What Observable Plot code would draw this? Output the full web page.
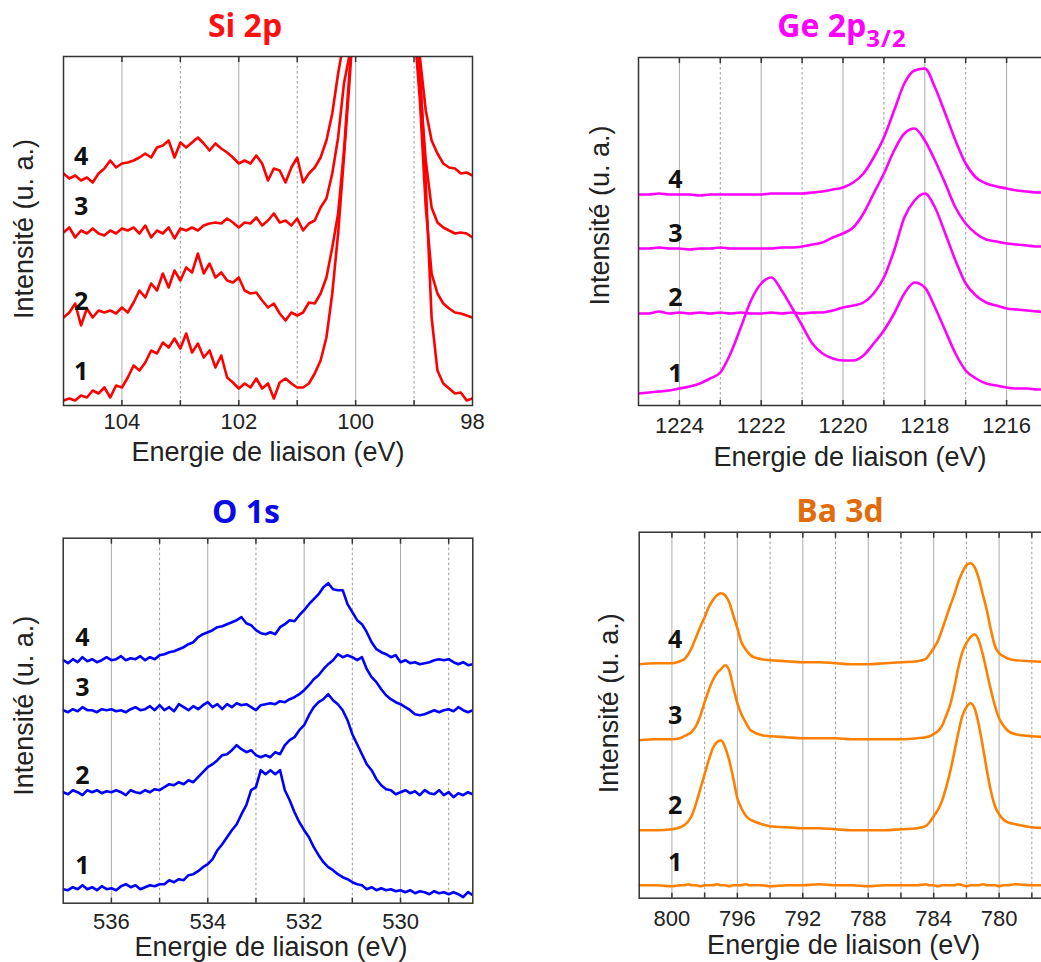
<!DOCTYPE html>
<html><head><meta charset="utf-8">
<script src="https://cdn.jsdelivr.net/npm/d3@7"></script>
<script src="https://cdn.jsdelivr.net/npm/@observablehq/plot@0.6"></script>
<style>
html,body{margin:0;padding:0;background:#fff;overflow:hidden;}
#page{position:relative;width:1041px;height:962px;overflow:hidden;background:#fff;}
.panel{position:absolute;}
.title{position:absolute;width:300px;text-align:center;font-family:"Open Sans",sans-serif;font-weight:700;font-size:32px;line-height:32px;white-space:nowrap;}
.title sub{font-size:24px;vertical-align:-10px;line-height:0;letter-spacing:1px;}
</style></head><body><div id="page"></div>
<script>
// ---------- Si 2p ----------
const siEnergy = [105.0,104.9,104.8,104.7,104.6,104.5,104.4,104.3,104.2,104.1,
104.0,103.9,103.8,103.7,103.6,103.5,103.4,103.3,103.2,103.1,
103.0,102.9,102.8,102.7,102.6,102.5,102.4,102.3,102.2,102.1,
102.0,101.9,101.8,101.7,101.6,101.5,101.4,101.3,101.2,101.1,
101.0,100.9,100.8,100.7,100.6,100.5,100.4,100.3,100.2,100.1,
100.0,99.9,99.8,99.7,99.6,99.5,99.4,99.3,99.2,99.1,
99.0,98.9,98.8,98.7,98.6,98.5,98.4,98.3,98.2,98.1,98.0];
const siS1 = [5,7,5,10,8,15,12,18,8,20, 18,28,40,35,43,55,52,63,58,67, 57,72,53,62,48,55,38,50,28,23, 17,22,18,27,17,22,7,23,27,22, 18,18,22,32,45,68,112,172,248,328,
420,480,520,540,550,540,520,480,440,400, 370,338,222,88,35,22,17,12,13,5,7];
const siS2 = [88,93,102,80,97,88,95,93,95,92, 98,93,103,115,108,122,115,132,118,135, 125,138,133,152,132,142,128,133,125,123, 128,115,112,113,105,98,102,92,85,93, 90,93,103,102,112,128,158,192,255,338,
420,480,520,540,550,540,520,480,440,400, 380,305,198,132,112,102,97,93,92,90,88];
const siS3 = [173,178,168,175,172,177,172,170,175,172, 177,175,178,172,180,168,175,172,178,167, 177,175,178,175,180,182,183,182,187,183, 178,183,182,188,180,185,192,183,185,180, 187,175,182,185,198,207,232,268,322,352,
420,480,520,540,550,540,520,480,440,400, 390,322,245,198,183,178,175,172,173,172,168];
const siS4 = [232,227,230,225,228,223,232,237,245,238, 242,243,245,248,252,248,258,260,265,248, 263,258,263,268,262,255,262,257,253,248, 242,245,242,250,242,225,237,235,223,238, 248,223,232,238,248,265,292,332,365,420,
450,490,520,540,550,540,520,490,450,420, 400,348,295,265,252,242,238,237,232,233,230];
const siMajor = [104,102,100];
const siMinor = [103,101,99];
const siTicks = [104,102,100,98];

// ---------- Ge 2p3/2 ----------
const geEnergy = [1225,1224.75,1224.5,1224.25,1224,1223.75,1223.5,1223.25,1223,1222.75,
1222.5,1222.25,1222,1221.75,1221.5,1221.25,1221,1220.75,1220.5,1220.25,
1220,1219.75,1219.5,1219.25,1219,1218.75,1218.5,1218.25,1218,1217.75,
1217.5,1217.25,1217,1216.75,1216.5,1216.25,1216,1215.75,1215.5,1215.25,1215];
const geS1 = [12,13,14,15,17,19,22,27,33,52, 78,105,122,128,115,98,80,62,52,47, 45,45,50,62,75,92,112,123,118,98, 75,52,35,27,22,20,18,17,17,16,16];
const geS2 = [92,92,94,92,93,92,93,92,93,92, 93,92,92,93,92,93,92,93,93,95, 98,100,103,112,128,155,188,205,212,198, 172,145,122,110,103,100,97,96,95,94,93];
const geS3 = [157,157,158,157,157,156,157,157,158,157, 157,157,157,157,158,158,159,161,163,168, 172,178,192,212,232,255,272,277,265,245, 222,198,182,172,166,164,162,161,160,159,159];
const geS4 = [211,211,212,211,211,211,210,211,211,211, 211,211,211,212,212,212,212,213,214,216, 218,223,232,248,268,295,322,335,337,318, 292,265,242,228,222,219,217,215,214,213,213];
const geMajor = [1224,1222,1220,1218,1216];
const geMinor = [1223,1221,1219,1217];
const geTicks = [1224,1222,1220,1218,1216];

// ---------- O 1s ----------
const oEnergy = [537.0,536.9,536.8,536.7,536.6,536.5,536.4,536.3,536.2,536.1,
536.0,535.9,535.8,535.7,535.6,535.5,535.4,535.3,535.2,535.1,
535.0,534.9,534.8,534.7,534.6,534.5,534.4,534.3,534.2,534.1,
534.0,533.9,533.8,533.7,533.6,533.5,533.4,533.3,533.2,533.1,
533.0,532.9,532.8,532.7,532.6,532.5,532.4,532.3,532.2,532.1,
532.0,531.9,531.8,531.7,531.6,531.5,531.4,531.3,531.2,531.1,
531.0,530.9,530.8,530.7,530.6,530.5,530.4,530.3,530.2,530.1,
530.0,529.9,529.8,529.7,529.6,529.5,529.4,529.3,529.2,529.1,
529.0,528.9,528.8,528.7,528.6,528.5];
const oS1 = [14,13,16,14,18,14,16,13,17,14, 15,13,17,19,16,18,14,16,18,17, 19,19,23,21,24,23,28,29,32,36, 39,44,53,59,66,73,79,89,98,113,
116,133,129,133,129,133,113,103,91,81, 73,66,56,48,41,36,33,29,26,24, 21,19,18,14,16,13,15,13,14,12, 13,11,13,10,12,11,9,12,10,11, 9,11,9,6,11,8];
const oS2 = [111,109,113,111,108,113,111,113,110,112, 111,113,111,108,113,111,110,113,111,114, 113,116,119,118,121,119,123,121,126,131, 136,139,143,148,149,153,158,154,151,153,
148,146,148,146,151,149,158,163,166,173, 178,188,196,201,204,209,203,199,193,183, 169,159,149,139,133,124,118,114,113,109, 111,113,110,112,108,113,110,109,113,108, 111,106,110,108,111,109];
const oS3 = [193,191,194,192,196,193,193,191,194,193, 194,192,193,191,194,196,193,194,197,193, 198,193,196,192,199,196,193,197,194,198, 201,196,199,194,199,196,200,198,199,196,
193,198,199,200,199,202,201,204,206,209, 213,218,224,228,234,239,243,249,246,248, 246,243,246,234,226,221,214,208,204,201, 199,196,193,189,188,189,191,193,191,193, 194,192,196,193,191,193];
const oS4 = [243,240,244,241,246,242,244,241,243,246, 243,244,247,243,245,244,247,243,246,244, 248,249,251,252,254,256,259,261,266,269, 271,273,276,277,279,281,283,286,280,278,
273,270,269,271,269,276,279,283,282,288, 293,299,304,309,316,320,314,313,313,299, 291,283,279,271,261,254,251,249,246,248, 241,243,240,241,239,240,241,243,244,243, 244,241,239,241,238,239];
const oMajor = [536,534,532,530];
const oMinor = [535,533,531,529];
const oTicks = [536,534,532,530];

// ---------- Ba 3d ----------
const baEnergy = [802,801,800,799.5,799.25,799,798.75,798.5,798.25,798,
797.75,797.5,797.25,797,796.75,796.5,796.25,796,795.75,795.5,
795.25,795,794.5,794,793,792,791,790,789,788,
787,786,785,784.5,784.25,784,783.75,783.5,783.25,783,
782.75,782.5,782.25,782,781.75,781.5,781.25,781,780.75,780.5,
780.25,780,779.75,779.5,779,778,777];
const baS1 = [13,13,12,13,13,14,13,13,12,13, 13,13,14,13,13,12,13,13,13,14, 13,13,13,12,13,13,14,13,13,12, 13,13,13,14,13,13,12,13,13,13, 13,14,13,12,13,13,13,14,13,13, 13,12,13,13,14,13,13];
const baS2 = [68,68,69,71,73,77,84,96,110,124, 138,150,156,158,151,138,120,100,90,83, 79,77,74,72,71,70,70,69,68,68, 68,69,70,72,76,82,88,97,110,126, 145,165,182,191,195,190,174,152,128,107, 92,84,79,76,74,71,70];
const baS3 = [158,159,159,160,162,164,167,173,183,196, 208,218,225,229,233,228,211,195,184,176, 169,166,163,162,161,160,160,160,159,159, 159,159,160,161,162,164,167,172,182,193, 210,230,246,255,261,264,258,244,226,208, 192,180,173,168,164,162,161];
const baS4 = [234,235,235,237,239,244,252,262,272,281, 291,298,303,305,303,296,283,270,256,249, 244,241,239,238,237,236,236,235,234,234, 235,236,237,239,244,250,257,268,280,292, 303,316,326,333,335,331,320,304,288,268, 252,245,242,240,238,237,236];
const baMajor = [800,796,792,788,784,780];
const baMinor = [798,794,790,786,782,778];
const baTicks = [800,796,792,788,784,780];

const seriesNames = ["1","2","3","4"];

const panels = [
  {title:"Si 2p", color:"#ff0000", titleColor:"#ff1010", left:0, top:0, width:520, height:475,
   mt:56, mr:48, mb:70, ml:63, xDomain:[105,98], yMax:349,
   energy:siEnergy, series:[siS1,siS2,siS3,siS4], majors:siMajor, minors:siMinor, ticks:siTicks,
   curve:"linear", labelE:104.7, labelDy:-24, yLabDx:-39, yLabDy:-2, xLabDx:0, xLabDy:47, tickPad:8,
   titleCx:245, titleTop:9},
  {title:"Ge 2p<sub>3/2</sub>", color:"#ff00ff", titleColor:"#ff00ff", left:540, top:0, width:540, height:475,
   mt:57, mr:33, mb:70, ml:98, xDomain:[1225,1215], yMax:348,
   energy:geEnergy, series:[geS1,geS2,geS3,geS4], majors:geMajor, minors:geMinor, ticks:geTicks,
   curve:"monotone-x", labelE:1224.1, labelDy:-15, yLabDx:-38, yLabDy:-16, xLabDx:7, xLabDy:52, tickPad:12,
   titleCx:842, titleTop:9},
  {title:"O 1s", color:"#0000ff", titleColor:"#0a0ae6", left:0, top:480, width:520, height:482,
   mt:57.7, mr:47.7, mb:59.3, ml:62.7, xDomain:[537,528.5], yMax:365,
   energy:oEnergy, series:[oS1,oS2,oS3,oS4], majors:oMajor, minors:oMinor, ticks:oTicks,
   curve:"linear", labelE:536.6, labelDy:-19, yLabDx:-39, yLabDy:-15, xLabDx:3, xLabDy:44, tickPad:10,
   titleCx:246, titleTop:495},
  {title:"Ba 3d", color:"#ff8000", titleColor:"#e36c0a", left:540, top:480, width:540, height:482,
   mt:51.7, mr:32.3, mb:64.3, ml:98.7, xDomain:[802,777], yMax:366,
   energy:baEnergy, series:[baS1,baS2,baS3,baS4], majors:baMajor, minors:baMinor, ticks:baTicks,
   curve:"monotone-x", labelE:799.8, labelDy:-23, yLabDx:-30, yLabDy:-12, xLabDx:0, xLabDy:47, tickPad:12,
   titleCx:840, titleTop:494}
];

const page = document.getElementById("page");
const axisFont = '"Liberation Sans", Arial, sans-serif';
const boldFont = '"Open Sans", "DejaVu Sans", sans-serif';

for (const p of panels) {
  const rows = [];
  p.series.forEach((vals, k) => {
    p.energy.forEach((e, i) => rows.push({E: e, v: vals[i], s: seriesNames[k]}));
  });
  // label anchors taken from the curves themselves
  let li = 0;
  p.energy.forEach((e, i) => { if (Math.abs(e - p.labelE) < Math.abs(p.energy[li] - p.labelE)) li = i; });
  const labels = p.series.map((vals, k) => ({E: p.labelE, v: vals[li], s: seriesNames[k]}));
  const allTicks = [...p.majors, ...p.minors];

  const chart = Plot.plot({
    width: p.width, height: p.height,
    marginTop: p.mt, marginRight: p.mr, marginBottom: p.mb, marginLeft: p.ml,
    x: {domain: p.xDomain},
    y: {domain: [0, p.yMax], axis: null},
    style: {fontFamily: axisFont, fontSize: "22px", color: "#222", background: "transparent", overflow: "visible"},
    marks: [
      Plot.ruleX(p.majors, {stroke: "#ababab", strokeWidth: 1}),
      Plot.ruleX(p.minors, {stroke: "#9a9a9a", strokeWidth: 1, strokeDasharray: "2.5,2.5"}),
      Plot.line(rows, {x: "E", y: "v", z: "s", stroke: p.color, strokeWidth: 2.6, curve: p.curve, clip: true}),
      Plot.text(labels, {x: "E", y: "v", text: "s", dy: p.labelDy, fontFamily: boldFont, fontWeight: "bold", fontSize: 25, fill: "#111"}),
      Plot.frame({stroke: "#333", strokeWidth: 1.5}),
      Plot.axisX({anchor: "bottom", ticks: allTicks, tickSize: -5, tickFormat: () => "", label: null, stroke: "#333", strokeWidth: 1.5}),
      Plot.axisX({anchor: "top", ticks: allTicks, tickSize: -5, tickFormat: () => "", label: null, stroke: "#333", strokeWidth: 1.5}),
      Plot.axisX({anchor: "bottom", ticks: p.ticks, tickSize: 0, tickPadding: p.tickPad, tickFormat: d => String(d), label: null, fontSize: 22, fill: "#222"}),
      Plot.text(["Energie de liaison (eV)"], {text: d => d, frameAnchor: "bottom", textAnchor: "middle", lineAnchor: "middle", dx: p.xLabDx, dy: p.xLabDy, fontSize: 27, fill: "#222"}),
      Plot.text(["Intensité (u. a.)"], {text: d => d, frameAnchor: "left", textAnchor: "middle", lineAnchor: "middle", rotate: -90, dx: p.yLabDx, dy: p.yLabDy, fontSize: 27, fill: "#222"})
    ]
  });
  const div = document.createElement("div");
  div.className = "panel";
  div.style.left = p.left + "px";
  div.style.top = p.top + "px";
  div.style.width = p.width + "px";
  div.style.height = p.height + "px";
  div.appendChild(chart);
  page.appendChild(div);

  const t = document.createElement("div");
  t.className = "title";
  t.style.left = (p.titleCx - 150) + "px";
  t.style.top = p.titleTop + "px";
  t.style.color = p.titleColor;
  t.innerHTML = p.title;
  page.appendChild(t);
}
</script></body></html>
